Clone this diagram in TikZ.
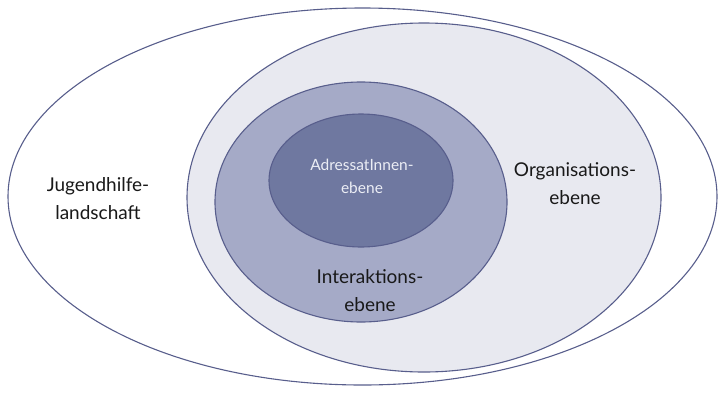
\documentclass[tikz,border=0pt]{standalone}
\usepackage{fontspec}
\setmainfont{Lato}
\usepackage{xcolor}
\definecolor{ringline}{RGB}{88,94,140}
\definecolor{orgfill}{RGB}{232,233,240}
\definecolor{interfill}{RGB}{165,170,199}
\definecolor{adrfill}{RGB}{111,120,160}
\definecolor{adrtext}{RGB}{236,238,245}
\usepackage{tikz}
\usetikzlibrary{positioning,shapes.geometric}

\tikzset{
  ring/.style={ellipse,draw=ringline,line width=1.1pt,inner sep=0pt},
  lvltext/.style={align=center,font=\fontsize{19}{28}\selectfont,text=black!90}
}

\begin{document}
\begin{tikzpicture}[x=1pt,y=-1pt]
\useasboundingbox (0,0) rectangle (719,394);
\node[ring,fill=white,minimum width=709pt,minimum height=377pt] (jugend) at (362.5,196.5) {};
\node[ring,fill=orgfill,minimum width=474pt,minimum height=349pt] (org) at (424,197.5) {};
\node[ring,fill=interfill,minimum width=292pt,minimum height=240pt] (inter) at (361,202) {};
\node[ring,fill=adrfill,minimum width=184pt,minimum height=133pt] (adr) at (361,180.5) {};
% Beschriftungen
\node[lvltext] (jugendtxt) at (98,199) {Jugendhilfe-\\landschaft};
\node[lvltext] (orgtxt) at (575,184) {Organisations-\\ebene};
\node[lvltext] (intertxt) at (370,291) {Interaktions-\\ebene};
\node[lvltext,font=\fontsize{15.5}{23}\selectfont,text=adrtext] (adrtxt) at (362,176) {AdressatInnen-\\ebene};
\end{tikzpicture}
\end{document}
